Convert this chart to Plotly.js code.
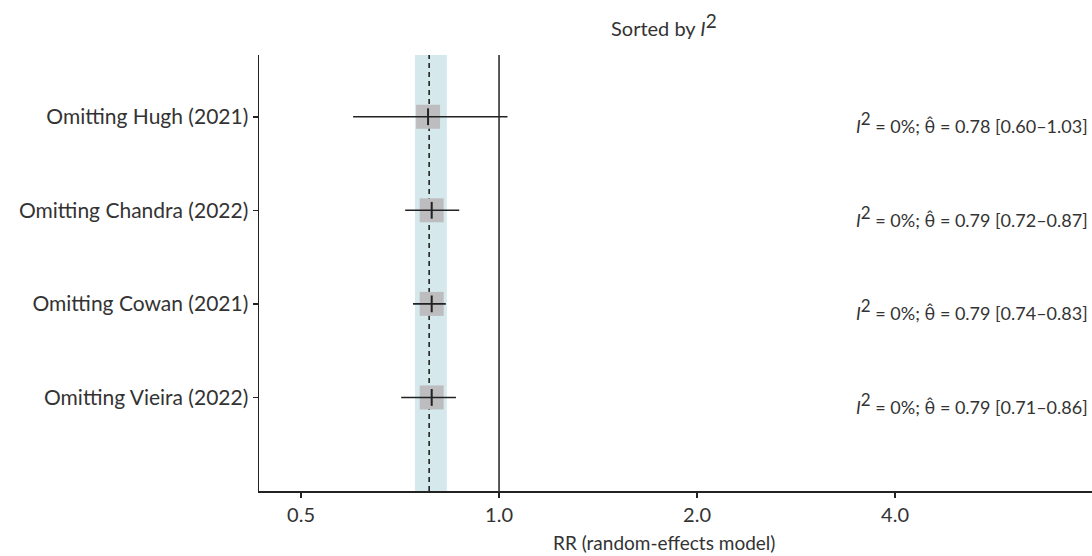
<!DOCTYPE html>
<html>
<head>
<meta charset="utf-8">
<script src="https://cdn.plot.ly/plotly-3.0.1.min.js"></script>
<style>html,body{margin:0;padding:0;background:#fff;}#chart{width:1092px;height:556px;}</style>
</head>
<body>
<div id="chart"></div>
<script>
// ---- data ----
const studies = ["Omitting Hugh (2021)", "Omitting Chandra (2022)", "Omitting Cowan (2021)", "Omitting Vieira (2022)"];
const rowPos = [4, 3, 2, 1];
const est = [0.78, 0.79, 0.79, 0.79];
const lower = [0.60, 0.72, 0.74, 0.71];
const upper = [1.03, 0.87, 0.83, 0.86];
const i2 = ["0%", "0%", "0%", "0%"];
const pooled = 0.783;
const pooledLower = 0.745;
const pooledUpper = 0.833;
const xTickVals = [0.5, 1, 2, 4];
const xTickText = ["0.5", "1.0", "2.0", "4.0"];

const yMin = 0, yMax = 4.66;
const ink = "#222";
const fontFam = "Lato, 'Open Sans', sans-serif";

const traces = [
  { // pooled CI band
    x: [pooledLower, pooledUpper, pooledUpper, pooledLower, pooledLower],
    y: [yMin, yMin, yMax, yMax, yMin],
    mode: "lines", fill: "toself", fillcolor: "#d5e8ec",
    line: {width: 0, color: "rgba(0,0,0,0)"}, hoverinfo: "skip"
  },
  { // null line
    x: [1, 1], y: [yMin, yMax], mode: "lines",
    line: {color: ink, width: 1.5}, hoverinfo: "skip"
  },
  { // pooled estimate
    x: [pooled, pooled], y: [yMin, yMax], mode: "lines",
    line: {color: ink, width: 1.6, dash: "5px,4px"}, hoverinfo: "skip"
  },
  { // boxes
    x: est, y: rowPos, mode: "markers",
    marker: {symbol: "square", size: 24, color: "#bdbdc0", line: {width: 0}}
  },
  { // CIs
    x: est, y: rowPos, mode: "markers",
    marker: {size: 1, color: "rgba(0,0,0,0)"},
    error_x: {type: "data", symmetric: false,
      array: est.map((e, i) => upper[i] - e),
      arrayminus: est.map((e, i) => e - lower[i]),
      color: ink, thickness: 1.6, width: 0}
  },
  { // centre ticks
    x: est, y: rowPos, mode: "markers",
    marker: {symbol: "line-ns", size: 12, line: {color: ink, width: 2}}
  }
];

const annotations = studies.map((s, i) => ({
  xref: "paper", yref: "y", x: 0.998, y: rowPos[i], xanchor: "right", yanchor: "middle",
  yshift: -6,
  text: "<i>I</i><sup><span style=\"font-size:17px\">2</span></sup> = " + i2[i] + "; θ\u0302 = " + est[i].toFixed(2) + " [" + lower[i].toFixed(2) + "–" + upper[i].toFixed(2) + "]",
  showarrow: false, font: {family: fontFam, size: 18, color: "#333"}
}));
annotations.push({
  xref: "paper", yref: "paper", x: 0.486, y: -0.118, xanchor: "center", yanchor: "middle",
  text: "RR (random-effects model)", showarrow: false,
  font: {family: fontFam, size: 19, color: "#333"}
});

const layout = {
  width: 1092, height: 556,
  margin: {l: 259, r: 0, t: 55, b: 65},
  paper_bgcolor: "#fff", plot_bgcolor: "#fff",
  showlegend: false,
  font: {family: fontFam, color: "#333"},
  title: {text: "Sorted by <i>I</i><sup><span style=\"font-size:19px\">2</span></sup>", font: {family: fontFam, size: 20, color: "#333"},
    xref: "paper", x: 0.486, xanchor: "center", yref: "container", y: 0.948, yanchor: "middle"},
  xaxis: {
    type: "log", range: [Math.log10(0.4316), Math.log10(7.97)],
    tickvals: xTickVals, ticktext: xTickText,
    ticks: "outside", ticklen: 5, tickwidth: 1.5, tickcolor: ink,
    showline: true, linecolor: ink, linewidth: 1.5,
    showgrid: false, zeroline: false,
    tickfont: {family: fontFam, size: 20, color: "#333"}
  },
  yaxis: {
    range: [yMin, yMax],
    tickvals: rowPos, ticktext: studies,
    ticks: "outside", ticklen: 5, tickwidth: 1.5, tickcolor: ink,
    showline: true, linecolor: ink, linewidth: 1.5,
    showgrid: false, zeroline: false,
    tickfont: {family: fontFam, size: 21, color: "#333"}
  },
  annotations: annotations
};

Plotly.newPlot("chart", traces, layout, {displayModeBar: false, staticPlot: true});
</script>
</body>
</html>
